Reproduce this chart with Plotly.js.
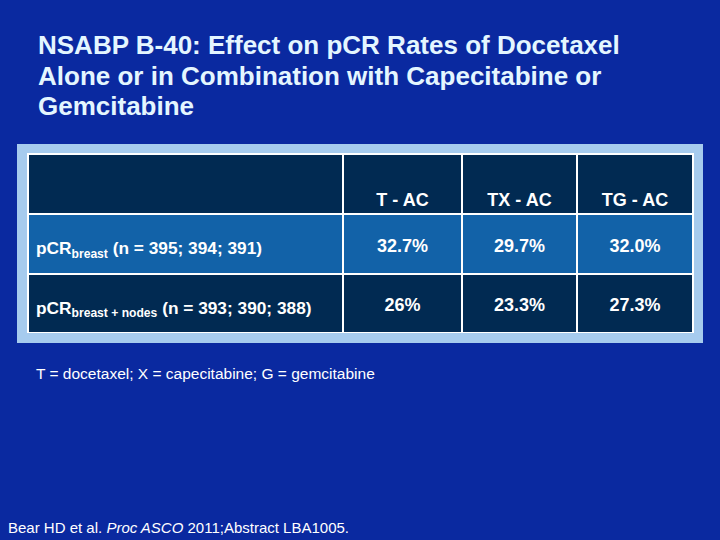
<!DOCTYPE html>
<html>
<head>
<meta charset="utf-8">
<script src="https://cdn.plot.ly/plotly-3.0.1.min.js"></script>
<style>html,body{margin:0;padding:0;background:#0a29a0;}#chart{width:720px;height:540px;}</style>
</head>
<body>
<div id="chart"></div>
<script>
// Data
const titleLines = [
  "NSABP B-40: Effect on pCR Rates of Docetaxel",
  "Alone or in Combination with Capecitabine or",
  "Gemcitabine"
];
const columnHeaders = ["", "T - AC", "TX - AC", "TG - AC"];
const rowLabels = [
  "pCR<sub>breast</sub> (n = 395; 394; 391)",
  "pCR<sub>breast + nodes</sub> (n = 393; 390; 388)"
];
const tAC = ["32.7%", "26%"];
const txAC = ["29.7%", "23.3%"];
const tgAC = ["32.0%", "27.3%"];
const footnote = "T = docetaxel; X = capecitabine; G = gemcitabine";
const source = "Bear HD et al. <i>Proc ASCO</i> 2011;Abstract LBA1005.";

const W = 720, H = 540;
const px = v => v / W, py = v => 1 - v / H;
const FONT = "Liberation Sans, Arial, sans-serif";

const dark = "#012a52", mid = "#1262a8";
const rowFill = [mid, dark];

const trace = {
  type: "table",
  domain: {x: [px(28), px(693)], y: [py(334), py(154)]},
  columnwidth: [315, 119, 115, 116],
  header: {
    values: columnHeaders,
    height: 60,
    align: ["left", "center", "center", "center"],
    fill: {color: dark},
    line: {color: "white", width: 2},
    font: {family: FONT, size: 18, color: "white", weight: "bold"}
  },
  cells: {
    values: [rowLabels, tAC, txAC, tgAC],
    height: 59.5,
    align: ["left", "center", "center", "center"],
    fill: {color: [rowFill, rowFill, rowFill, rowFill]},
    line: {color: "white", width: 2},
    font: {family: FONT, size: [17.3, 18, 18, 18], color: "white", weight: "bold"}
  }
};

const annotations = titleLines.map((t, i) => ({
  text: t, xref: "paper", yref: "paper",
  x: px(36), y: py(45 + i * 30.5), xanchor: "left", yanchor: "middle",
  showarrow: false,
  font: {family: FONT, size: 26, color: "#e4f6ff", weight: "bold"}
}));
annotations.push(
  {
    text: footnote, xref: "paper", yref: "paper", x: px(34), y: py(373),
    xanchor: "left", yanchor: "middle", showarrow: false,
    font: {family: FONT, size: 15.5, color: "white"}
  },
  {
    text: source, xref: "paper", yref: "paper", x: px(6), y: py(527),
    xanchor: "left", yanchor: "middle", showarrow: false,
    font: {family: FONT, size: 15, color: "white"}
  }
);

const layout = {
  width: W, height: H,
  margin: {l: 0, r: 0, t: 0, b: 0},
  paper_bgcolor: "#0a29a0",
  plot_bgcolor: "#0a29a0",
  showlegend: false,
  shapes: [{
    type: "rect", xref: "paper", yref: "paper", layer: "below",
    x0: px(17), x1: px(703), y0: py(343), y1: py(144),
    fillcolor: "#a6cbee", line: {width: 0}
  }],
  annotations: annotations
};

// vertical alignment of table text (header text sits low, body text centred)
function alignTableText(gd) {
  const cells = Array.from(gd.querySelectorAll(".column-cell"));
  const info = cells.map(c => ({
    c,
    r: c.querySelector(".cell-rect").getBoundingClientRect(),
    holder: c.querySelector(".cell-text-holder"),
    text: c.querySelector(".cell-text")
  })).filter(i => i.holder && i.text);
  if (!info.length) return;
  const minTop = Math.min(...info.map(i => i.r.top));
  const groups = {};
  info.forEach(i => { const k = Math.round(i.r.top); (groups[k] = groups[k] || []).push(i); });
  Object.values(groups).forEach(g => {
    const isHeader = Math.abs(g[0].r.top - minTop) < 1;
    const frac = isHeader ? 0.76 : 0.535;
    g.sort((a, b) => a.r.left - b.r.left);
    g.forEach(i => {
      const tb = i.text.getBoundingClientRect();
      if (!tb.height) return;
      // use the plain value cell of the row as the baseline reference
      const ref = g[g.length - 1];
      const rb = ref.text.getBoundingClientRect();
      const dy = (ref.r.top + frac * ref.r.height) - (rb.top + rb.bottom) / 2;
      i.dy = dy;
    });
    const dy = g[g.length - 1].dy || 0;
    if (Math.abs(dy) < 0.5) return;
    g.forEach(i => {
      const t = i.holder.getAttribute("transform") || "";
      i.holder.setAttribute("transform", t + " translate(0," + dy.toFixed(2) + ")");
    });
  });
}

Plotly.newPlot("chart", [trace], layout, {displayModeBar: false, staticPlot: true}).then(gd => {
  alignTableText(gd);
  setTimeout(() => alignTableText(gd), 50);
});
</script>
</body>
</html>
